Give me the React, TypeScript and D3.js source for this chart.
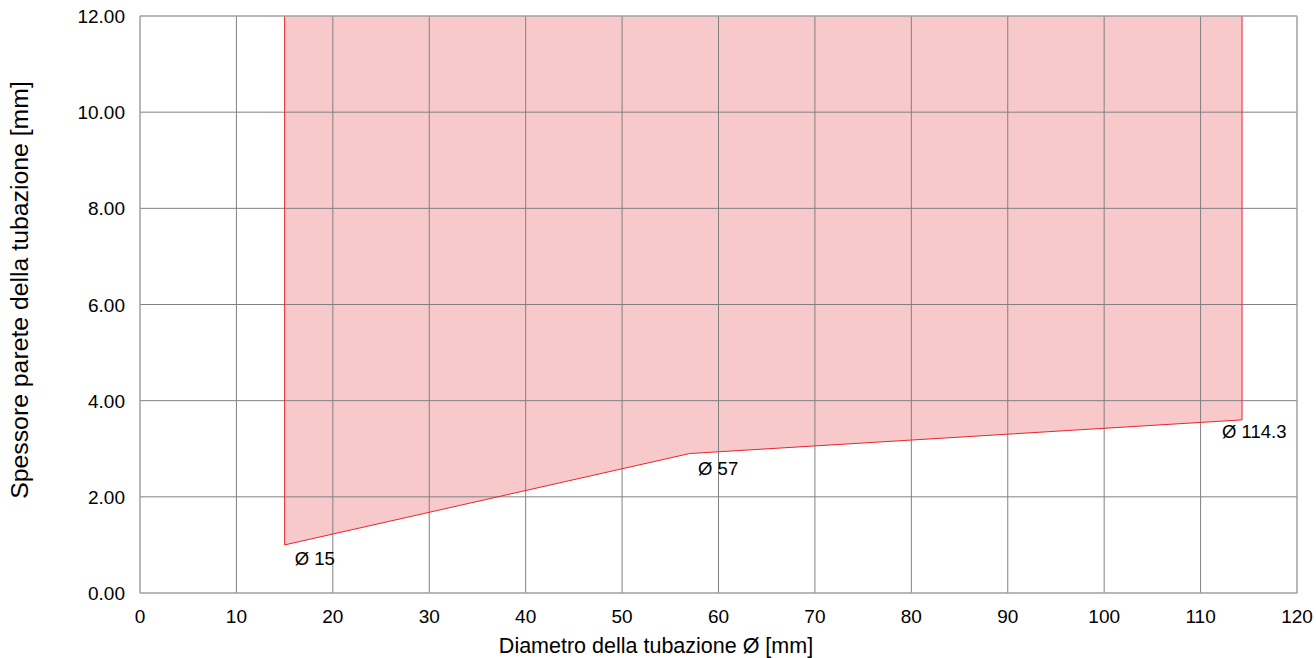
import React from "react";
import * as d3 from "d3";

const diameters = [15, 57, 114.3];
const thickness = [1.0, 2.9, 3.6];
const pointLabels = ["Ø 15", "Ø 57", "Ø 114.3"];
const xTicks = [0, 10, 20, 30, 40, 50, 60, 70, 80, 90, 100, 110, 120];
const yTicks = [0, 2, 4, 6, 8, 10, 12];
const yMax = 12;

export default function App() {
  const W = 1316, H = 658;
  const left = 140, right = 1297, top = 16, bottom = 593;
  const x = d3.scaleLinear().domain([0, 120]).range([left, right]);
  const y = d3.scaleLinear().domain([0, 12]).range([bottom, top]);

  const pts: [number, number][] = diameters.map((d, i) => [d, thickness[i]]);
  const area = d3
    .area<[number, number]>()
    .x((d) => x(d[0]))
    .y0(() => y(yMax))
    .y1((d) => y(d[1]));
  const line = d3
    .line<[number, number]>()
    .x((d) => x(d[0]))
    .y((d) => y(d[1]));

  const font = "'Liberation Sans', Arial, sans-serif";
  const labelOffsets = [
    { dx: 10, dy: 20 },
    { dx: 8.5, dy: 21 },
    { dx: -20, dy: 18 },
  ];

  return (
    <svg width={W} height={H} style={{ position: "absolute", left: 0, top: 0 }} fontFamily={font}>
      <rect x={0} y={0} width={W} height={H} fill="#fff" />
      <path d={area(pts) || ""} fill="#f8c9cb" />
      {xTicks.map((t) => (
        <line key={"gx" + t} x1={x(t)} x2={x(t)} y1={top} y2={bottom} stroke="#808080" strokeWidth={1} />
      ))}
      {yTicks.map((t) => (
        <line key={"gy" + t} x1={left} x2={right} y1={y(t)} y2={y(t)} stroke="#808080" strokeWidth={1} />
      ))}
      <path d={line(pts) || ""} fill="none" stroke="#e8262a" strokeWidth={1} />
      <line x1={x(diameters[0])} x2={x(diameters[0])} y1={y(yMax)} y2={y(thickness[0])} stroke="#e8262a" strokeWidth={1} />
      <line
        x1={x(diameters[diameters.length - 1])}
        x2={x(diameters[diameters.length - 1])}
        y1={y(yMax)}
        y2={y(thickness[thickness.length - 1])}
        stroke="#e8262a"
        strokeWidth={1}
      />
      <rect x={left} y={top} width={right - left} height={bottom - top} fill="none" stroke="#b0b0b0" strokeWidth={1} />
      {xTicks.map((t) => (
        <text key={"tx" + t} x={x(t)} y={bottom + 30} textAnchor="middle" fontSize={19} fill="#000">
          {t}
        </text>
      ))}
      {yTicks.map((t) => (
        <text key={"ty" + t} x={left - 15} y={y(t) + 7} textAnchor="end" fontSize={19} fill="#000">
          {t.toFixed(2)}
        </text>
      ))}
      {pts.map((p, i) => (
        <text
          key={"pl" + i}
          x={x(p[0]) + labelOffsets[i].dx}
          y={y(p[1]) + labelOffsets[i].dy}
          fontSize={18.5}
          fill="#000"
        >
          {pointLabels[i]}
        </text>
      ))}
      <text x={656} y={653} textAnchor="middle" fontSize={21.5} fill="#000">
        Diametro della tubazione Ø [mm]
      </text>
      <text
        transform={`translate(28, 290) rotate(-90)`}
        textAnchor="middle"
        fontSize={24.8}
        fill="#000"
      >
        Spessore parete della tubazione [mm]
      </text>
    </svg>
  );
}
